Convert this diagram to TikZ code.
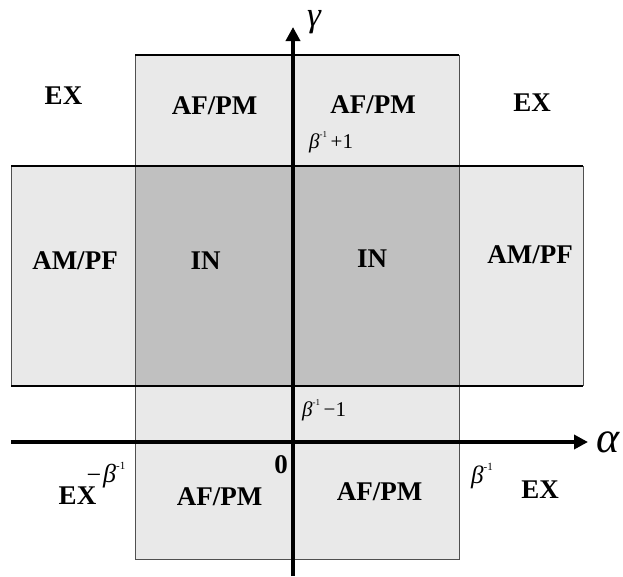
\documentclass[tikz,border=0pt]{standalone}
\usepackage{fontspec}
\setmainfont{Liberation Serif}
\usetikzlibrary{arrows.meta}
\definecolor{lightband}{RGB}{233,233,233}
\definecolor{darkband}{RGB}{192,192,192}
\definecolor{edgegray}{RGB}{80,80,80}
\newcommand{\binv}[1]{{\itshape β}\raisebox{0.5em}{\fontsize{#1}{#1}\selectfont -1}}
\tikzset{
  lab/.style={font=\bfseries\fontsize{27}{27}\selectfont, inner sep=0pt, anchor=base},
  blab/.style={font=\fontsize{21}{21}\selectfont, inner sep=0pt, anchor=base west},
  greek/.style={font=\itshape\fontsize{35}{35}\selectfont, inner sep=0pt, anchor=base},
  axis/.style={line width=3.6pt, -{Triangle[length=14pt,width=14pt]}},
  thinedge/.style={draw=edgegray, line width=1pt},
}
\begin{document}
\begin{tikzpicture}[x=1pt,y=-1pt]
\useasboundingbox (0,0) rectangle (623,576);
% bands
\fill[lightband] (135,55) rectangle (459,559);
\fill[lightband] (11,166) rectangle (583,386);
\fill[darkband] (135,166) rectangle (459,386);
% edges
\draw[thinedge] (135,55) rectangle (459,559);
\draw[thinedge] (11,166) -- (11,386);
\draw[thinedge] (583,166) -- (583,386);
\draw[black, line width=2.2pt] (11,166) -- (583,166);
\draw[black, line width=1.5pt] (11,386) -- (583,386);
\draw[black, line width=1.3pt] (135,55) -- (459,55);
% axes
\coordinate (xs) at (11,442);
\coordinate (xe) at (588,442);
\coordinate (ys) at (293,576);
\coordinate (ye) at (293,27);
\draw[axis] (xs) -- (xe);
\draw[axis] (ys) -- (ye);
\node[greek] (gam) at (314,26) {γ};
\node[greek, font=\itshape\fontsize{44}{44}\selectfont] (alp) at (608,452) {α};
% region labels
\node[lab] (ex1) at (63.5,104) {EX};
\node[lab] (afpm1) at (214.5,114) {AF/PM};
\node[lab] (afpm2) at (373,113) {AF/PM};
\node[lab] (ex2) at (532,111) {EX};
\node[lab] (ampf1) at (75,269) {AM/PF};
\node[lab] (in1) at (205.5,269) {IN};
\node[lab] (in2) at (372,267) {IN};
\node[lab] (ampf2) at (530,263) {AM/PF};
\node[lab] (zero) at (281,473) {0};
\node[lab] (ex3) at (77.5,504) {EX};
\node[lab] (afpm3) at (219.5,505) {AF/PM};
\node[lab] (afpm4) at (379.5,500) {AF/PM};
\node[lab] (ex4) at (540,498) {EX};
% beta labels
\node[blab] (bp) at (309,148) {\binv{9}\,+1};
\node[blab] (bm) at (302,416) {\binv{9}\,−1};
\node[inner sep=0pt, anchor=base, font=\fontsize{26}{26}\selectfont] (minus) at (94,483) {−};
\node[blab, font=\fontsize{26}{26}\selectfont] (bneg) at (103,482) {\binv{11}};
\node[blab, font=\fontsize{25}{25}\selectfont] (bpos) at (471,483) {\binv{11}};
\end{tikzpicture}
\end{document}
